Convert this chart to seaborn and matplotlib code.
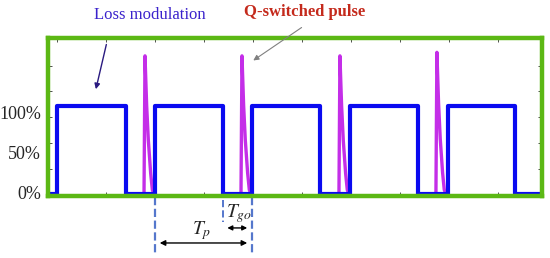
import numpy as np
import pandas as pd
import seaborn as sns
import matplotlib.pyplot as plt

# loss modulation square wave (time in units of one period)
rise_t = [0.0, 1.0, 1.99, 2.99, 3.99]
fall_t = [0.704, 1.694, 2.684, 3.684, 4.673]
wave_start, wave_end = -0.09, 4.95

# Q-switched pulses: start times and peak heights
pulse_t = [0.888, 1.878, 2.878, 3.868]
pulse_peak = [1.57, 1.57, 1.57, 1.61]
# pulse shape: offset from start, fraction of peak
pulse_dx = [0.0, 0.01, 0.027, 0.044, 0.068, 0.085, 0.102]
pulse_frac = [0.0, 1.0, 0.64, 0.39, 0.15, 0.03, 0.0]

# percent labels sit a little below their nominal level in the original
y_labels = ['0%', '50%', '100%']
y_label_pos = [0.02, 0.47, 0.93]

sns.set_style('white')
plt.rcParams['font.family'] = ['Liberation Serif', 'DejaVu Serif']

# build the tables
wx, wy = [wave_start], [0.0]
for r, f in zip(rise_t, fall_t):
    wx += [r, r, f, f]
    wy += [0.0, 1.0, 1.0, 0.0]
wx.append(wave_end)
wy.append(0.0)
wave = pd.DataFrame({'t': wx, 'level': wy})

rows = []
for i, (t0, pk) in enumerate(zip(pulse_t, pulse_peak)):
    for dx, fr in zip(pulse_dx, pulse_frac):
        rows.append({'t': t0 + dx, 'level': pk * fr, 'pulse': i})
pulses = pd.DataFrame(rows)

fig = plt.figure(figsize=(5.5, 2.58), dpi=100)
ax = fig.add_axes([0.0873, 0.2403, 0.898, 0.6124])

sns.lineplot(data=pulses, x='t', y='level', units='pulse', estimator=None,
             sort=False, color='#c42ee8', lw=2.4, ax=ax)
sns.lineplot(data=wave, x='t', y='level', estimator=None, sort=False,
             color='#0a0af0', lw=3.0, ax=ax)

ax.set_xlim(-0.092, 4.95)
ax.set_ylim(-0.023, 1.773)
ax.set_xlabel('')
ax.set_ylabel('')

for s in ax.spines.values():
    s.set_color('#5cb814')
    s.set_linewidth(3.2)

ax.set_xticks(np.arange(0, 5, 0.5))
ax.set_xticklabels([])
ax.set_yticks(y_label_pos)
ax.set_yticklabels(y_labels, fontsize=13)
ax.set_yticks([0.28, 0.58, 0.875, 1.17, 1.455], minor=True)
ax.tick_params(axis='y', which='major', length=0, pad=5)
ax.tick_params(axis='y', which='minor', direction='in', length=3, width=0.6,
               left=True, right=True, color='#333333')
ax.tick_params(axis='x', direction='in', length=3, width=0.6, top=True,
               bottom=True, color='#333333')

# annotations
ax.text(0.95, 2.03, 'Loss modulation', color='#3a22cc', fontsize=12,
        ha='center', va='center', clip_on=False)
ax.annotate('', xy=(0.39, 1.16), xytext=(0.51, 1.73),
            arrowprops=dict(arrowstyle='-|>', color='#2a1a80', lw=1.0,
                            mutation_scale=8), annotation_clip=False)
ax.text(2.53, 2.07, 'Q-switched pulse', color='#c42a1c', fontsize=12,
        fontweight='bold', ha='center', va='center', clip_on=False)
ax.annotate('', xy=(1.98, 1.50), xytext=(2.52, 1.91),
            arrowprops=dict(arrowstyle='-|>', color='#808080', lw=0.8,
                            mutation_scale=8), annotation_clip=False)

# period markers below the axes
for xv in [rise_t[1], rise_t[2]]:
    ax.plot([xv, xv], [-0.03, -0.69], ls='--', color='#5577cc', lw=1.6,
            clip_on=False)
ax.plot([fall_t[1], fall_t[1]], [-0.07, -0.32], ls='--', color='#5577cc',
        lw=1.4, clip_on=False)
ax.annotate('', xy=(1.02, -0.557), xytext=(1.97, -0.557),
            arrowprops=dict(arrowstyle='<|-|>', color='black', lw=1.0,
                            mutation_scale=8), annotation_clip=False)
ax.annotate('', xy=(1.71, -0.386), xytext=(1.97, -0.386),
            arrowprops=dict(arrowstyle='<|-|>', color='black', lw=1.0,
                            mutation_scale=7), annotation_clip=False)
ax.text(1.48, -0.42, r'$T_p$', fontsize=14, ha='center', va='center',
        math_fontfamily='stix')
ax.text(1.86, -0.22, r'$T_{go}$', fontsize=14, ha='center', va='center',
        math_fontfamily='stix')

fig.savefig('out.png', dpi=100)
